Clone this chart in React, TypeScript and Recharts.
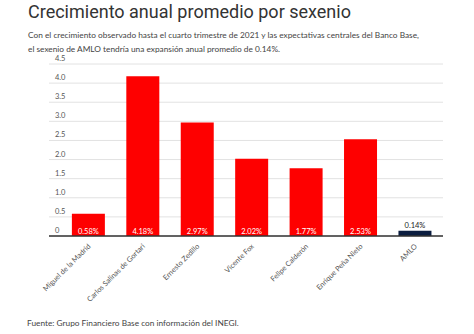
import { BarChart, Bar, XAxis, YAxis, CartesianGrid, LabelList, Cell } from 'recharts'

const PRESIDENTS = [
  'Miguel de la Madrid',
  'Carlos Salinas de Gortari',
  'Ernesto Zedillo',
  'Vicente Fox',
  'Felipe Calderón',
  'Enrique Peña Nieto',
  'AMLO',
]
const GROWTH = [0.58, 4.18, 2.97, 2.02, 1.77, 2.53, 0.14]
const Y_TICKS = [0, 0.5, 1, 1.5, 2, 2.5, 3, 3.5, 4, 4.5]

const RED = '#fe0000'
const NAVY = '#0b1d3f'
const SMALL_FONT = 'Lato, "Open Sans", sans-serif'

const data = PRESIDENTS.map((name, i) => ({ name, value: GROWTH[i] }))

function YTick(props: any) {
  const { x, y, payload } = props
  const v = payload.value as number
  return (
    <text x={x} y={y} dy={-3} textAnchor="start" fontSize={7.5} fill="#555" fontFamily={SMALL_FONT}>
      {v === 0 ? '0' : v.toFixed(1)}
    </text>
  )
}

function XTick(props: any) {
  const { x, y, payload } = props
  return (
    <g transform={`translate(${x},${y})`}>
      <text x={0} y={0} dy={4} textAnchor="end" transform="rotate(-45)" fontSize={7.3} fill="#555" fontFamily={SMALL_FONT}>
        {payload.value}
      </text>
    </g>
  )
}

function ValueLabel(props: any) {
  const { x, y, width, height, value, index } = props
  const last = index === PRESIDENTS.length - 1
  const cx = x + width / 2
  if (last) {
    return (
      <text x={cx} y={y - 3} textAnchor="middle" fontSize={7.5} fill="#222" fontFamily={SMALL_FONT}>
        {value.toFixed(2)}%
      </text>
    )
  }
  return (
    <text x={cx} y={y + height - 2.5} textAnchor="middle" fontSize={7.5} fill="#fff" fontFamily={SMALL_FONT}>
      {value.toFixed(2)}%
    </text>
  )
}

export default function App() {
  return (
    <div style={{ position: 'absolute', left: 0, top: 0, width: 474, height: 334, background: '#fff', overflow: 'hidden' }}>
      <div style={{ position: 'absolute', left: 28, top: 1, fontFamily: 'Roboto, sans-serif', fontSize: 18, color: '#333', whiteSpace: 'nowrap' }}>
        Crecimiento anual promedio por sexenio
      </div>
      <div style={{ position: 'absolute', left: 28, top: 28, fontFamily: SMALL_FONT, fontSize: 8.3, lineHeight: '14px', color: '#444', whiteSpace: 'nowrap' }}>
        Con el crecimiento observado hasta el cuarto trimestre de 2021 y las expectativas centrales del Banco Base,
        <br />
        el sexenio de AMLO tendría una expansión anual promedio de 0.14%.
      </div>
      <div style={{ position: 'absolute', left: 0, top: 0 }}>
        <BarChart
          width={474}
          height={310}
          data={data}
          margin={{ top: 64, right: 31, bottom: 4, left: 49 }}
          barCategoryGap="20%"
        >
          <CartesianGrid vertical={false} stroke="#e2e2e2" />
          <YAxis
            width={1}
            mirror
            type="number"
            domain={[0, 4.5]}
            ticks={Y_TICKS}
            interval={0}
            axisLine={false}
            tickLine={false}
            tick={<YTick />}
            tickMargin={0}
          />
          <XAxis
            dataKey="name"
            height={70}
            interval={0}
            padding={{ left: 12, right: 1 }}
            axisLine={{ stroke: '#333', strokeWidth: 1.5 }}
            tickLine={false}
            tick={<XTick />}
          />
          <Bar dataKey="value" isAnimationActive={false}>
            {data.map((d, i) => (
              <Cell key={d.name} fill={i === data.length - 1 ? NAVY : RED} />
            ))}
            <LabelList dataKey="value" content={<ValueLabel />} />
          </Bar>
        </BarChart>
      </div>
      <div style={{ position: 'absolute', left: 27, top: 318, fontFamily: SMALL_FONT, fontSize: 8.3, color: '#444', whiteSpace: 'nowrap' }}>
        Fuente: Grupo Financiero Base con información del INEGI.
      </div>
    </div>
  )
}
